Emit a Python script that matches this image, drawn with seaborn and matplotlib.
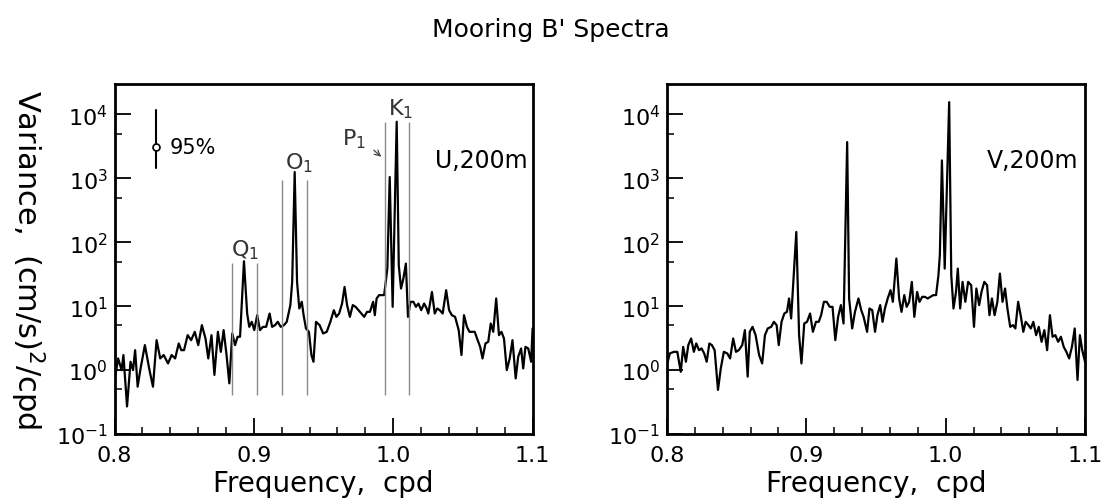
import matplotlib
matplotlib.use("Agg")
import matplotlib.pyplot as plt
import matplotlib.ticker as mticker
import seaborn as sns

# U component, 200 m (frequency in cpd, variance in (cm/s)^2/cpd)
freq_u = [
    0.8000, 0.8026, 0.8051, 0.8064, 0.8090, 0.8115, 0.8133, 0.8148, 0.8166, 0.8187,
    0.8218, 0.8251, 0.8276, 0.8302, 0.8328, 0.8353, 0.8384, 0.8410, 0.8435, 0.8461,
    0.8479, 0.8499, 0.8525, 0.8550, 0.8576, 0.8601, 0.8627, 0.8653, 0.8673, 0.8696,
    0.8717, 0.8742, 0.8763, 0.8783, 0.8804, 0.8824, 0.8845, 0.8865, 0.8883, 0.8901,
    0.8929, 0.8952, 0.8967, 0.8985, 0.9003, 0.9024, 0.9044, 0.9065, 0.9088, 0.9113,
    0.9131, 0.9152, 0.9172, 0.9193, 0.9216, 0.9236, 0.9262, 0.9275, 0.9293, 0.9310,
    0.9326, 0.9344, 0.9357, 0.9374, 0.9395, 0.9413, 0.9428, 0.9446, 0.9472, 0.9497,
    0.9523, 0.9549, 0.9574, 0.9592, 0.9612, 0.9633, 0.9651, 0.9669, 0.9689, 0.9710,
    0.9730, 0.9751, 0.9771, 0.9792, 0.9812, 0.9833, 0.9856, 0.9868, 0.9881, 0.9899,
    0.9920, 0.9935, 0.9958, 0.9975, 0.9996, 1.0025, 1.0040, 1.0056, 1.0073, 1.0091,
    1.0106, 1.0124, 1.0145, 1.0163, 1.0181, 1.0201, 1.0222, 1.0240, 1.0252, 1.0278,
    1.0298, 1.0316, 1.0334, 1.0355, 1.0380, 1.0401, 1.0421, 1.0444, 1.0470, 1.0490,
    1.0508, 1.0529, 1.0547, 1.0565, 1.0585, 1.0606, 1.0624, 1.0641, 1.0662, 1.0682,
    1.0700, 1.0718, 1.0739, 1.0759, 1.0777, 1.0795, 1.0815, 1.0836, 1.0856, 1.0879,
    1.0897, 1.0918, 1.0933, 1.0949, 1.0969, 1.0990, 1.1000,
]
var_u = [
    0.66, 1.52, 1.0, 1.72, 0.27, 1.35, 1.0, 2.05, 0.55, 1.06,
    2.46, 1.0, 0.55, 2.94, 1.52, 1.72, 1.27, 1.72, 1.52, 2.61,
    2.05, 2.05, 3.52, 2.94, 3.97, 2.46, 5.05, 3.12, 1.52, 3.52,
    0.84, 3.97, 1.93, 4.22, 1.72, 0.62, 3.74, 2.46, 3.32, 3.32,
    50.5, 7.68, 4.75, 5.69, 4.22, 7.23, 4.22, 4.75, 4.75, 7.68,
    4.75, 5.05, 5.69, 4.75, 5.05, 5.69, 10.4, 24.0, 1256, 24.0,
    9.2, 11.7, 7.23, 4.48, 3.97, 1.72, 1.35, 5.69, 5.05, 3.74,
    3.97, 5.69, 8.66, 6.81, 7.68, 11.0, 20.0, 10.4, 6.81, 10.4,
    9.77, 8.66, 7.68, 6.81, 8.15, 8.15, 11.7, 7.23, 13.2, 14.9,
    14.9, 14.9, 38.8, 1050, 9.77, 7700, 43.7, 18.9, 27.1, 46.4,
    6.81, 11.7, 11.7, 9.77, 11.0, 8.66, 11.0, 9.2, 7.68, 16.7,
    7.68, 9.2, 8.66, 7.68, 17.8, 8.66, 7.23, 6.81, 4.22, 1.72,
    7.23, 4.75, 3.97, 3.97, 3.97, 2.94, 2.31, 1.52, 2.61, 2.77,
    5.36, 3.97, 13.2, 3.52, 3.97, 3.12, 1.0, 1.52, 2.94, 0.74,
    1.62, 2.18, 1.06, 2.31, 2.18, 1.35, 4.48,
]

# V component, 200 m
freq_v = [
    0.8000, 0.8020, 0.8050, 0.8074, 0.8099, 0.8116, 0.8136, 0.8153, 0.8173, 0.8193,
    0.8210, 0.8230, 0.8248, 0.8267, 0.8285, 0.8304, 0.8322, 0.8342, 0.8366, 0.8386,
    0.8408, 0.8433, 0.8453, 0.8475, 0.8495, 0.8515, 0.8540, 0.8559, 0.8579, 0.8594,
    0.8614, 0.8636, 0.8661, 0.8683, 0.8703, 0.8723, 0.8748, 0.8767, 0.8787, 0.8802,
    0.8822, 0.8842, 0.8861, 0.8876, 0.8891, 0.8928, 0.8948, 0.8965, 0.8985, 0.9005,
    0.9027, 0.9047, 0.9069, 0.9089, 0.9106, 0.9126, 0.9146, 0.9168, 0.9188, 0.9208,
    0.9228, 0.9248, 0.9267, 0.9293, 0.9307, 0.9329, 0.9349, 0.9374, 0.9394, 0.9411,
    0.9436, 0.9453, 0.9473, 0.9493, 0.9510, 0.9530, 0.9547, 0.9564, 0.9584, 0.9604,
    0.9621, 0.9646, 0.9666, 0.9683, 0.9703, 0.9720, 0.9738, 0.9757, 0.9775, 0.9795,
    0.9812, 0.9832, 0.9851, 0.9871, 0.9891, 0.9911, 0.9931, 0.9948, 0.9958, 0.9973,
    0.9993, 1.0025, 1.0040, 1.0056, 1.0074, 1.0087, 1.0104, 1.0121, 1.0141, 1.0161,
    1.0183, 1.0203, 1.0220, 1.0240, 1.0257, 1.0277, 1.0297, 1.0314, 1.0332, 1.0351,
    1.0371, 1.0389, 1.0408, 1.0426, 1.0443, 1.0463, 1.0483, 1.0500, 1.0520, 1.0540,
    1.0557, 1.0574, 1.0594, 1.0611, 1.0629, 1.0649, 1.0668, 1.0688, 1.0708, 1.0728,
    1.0748, 1.0767, 1.0787, 1.0807, 1.0827, 1.0847, 1.0866, 1.0886, 1.0906, 1.0926,
    1.0946, 1.0963, 1.0980, 1.1000,
]
var_v = [
    1.20, 1.82, 1.93, 1.93, 0.94, 2.31, 1.35, 2.46, 3.12, 1.93,
    2.61, 2.05, 2.18, 1.82, 1.35, 2.61, 2.46, 2.05, 0.49, 1.06,
    1.93, 1.82, 1.52, 3.12, 1.93, 2.05, 2.46, 4.22, 0.79, 3.97,
    4.75, 3.52, 1.72, 1.27, 3.52, 4.48, 4.75, 5.69, 5.05, 2.46,
    5.69, 7.68, 8.15, 13.2, 6.42, 145, 3.52, 1.27, 5.36, 5.69,
    7.68, 3.97, 5.69, 5.69, 7.23, 11.7, 11.7, 9.77, 9.77, 2.94,
    6.81, 10.4, 5.36, 3700, 13.2, 4.48, 8.15, 13.2, 8.66, 6.81,
    3.97, 9.2, 8.66, 3.97, 7.23, 10.4, 5.69, 9.2, 13.2, 17.8,
    11.7, 55.6, 13.2, 8.15, 14.9, 9.77, 11.7, 24.0, 6.81, 16.7,
    11.7, 14.0, 14.0, 13.2, 14.0, 14.9, 14.9, 30.5, 62.6, 1910,
    38.8, 15600, 30.5, 9.2, 16.7, 38.8, 9.2, 24.0, 11.7, 24.0,
    21.3, 4.75, 18.9, 10.4, 16.7, 24.0, 21.3, 7.23, 13.2, 7.23,
    11.7, 32.4, 11.7, 18.9, 9.2, 4.75, 5.05, 4.48, 11.7, 6.81,
    3.97, 5.69, 5.05, 4.48, 5.69, 3.52, 4.75, 2.77, 4.22, 2.05,
    7.23, 3.32, 3.52, 2.77, 3.32, 2.31, 1.93, 1.52, 2.31, 4.48,
    0.70, 3.52, 2.05, 1.35,
]

x_ticks = [0.8, 0.9, 1.0, 1.1]
x_tick_labels = ["0.8", "0.9", "1.0", "1.1"]

# tidal band markers on the U panel
band_freqs = [0.8841, 0.9021, 0.9200, 0.9384, 0.9941, 1.0116]
band_low = [0.41, 0.41, 0.41, 0.41, 0.41, 0.41]
band_high = [47, 47, 940, 940, 7700, 7700]
constituents = ["Q$_1$", "O$_1$", "P$_1$", "K$_1$"]
constituent_freqs = [0.8937, 0.9326, 0.9719, 1.0056]
constituent_levels = [78, 1780, 4200, 12400]

# 95% confidence bar
ci_freq = 0.8298
ci_low, ci_mid, ci_high = 1450, 3150, 11700

sns.set_style("ticks")
plt.rcParams["font.family"] = ["DejaVu Sans"]
plt.rcParams["mathtext.fontset"] = "dejavusans"
plt.rcParams["text.color"] = "black"
plt.rcParams["axes.labelcolor"] = "black"

fig = plt.figure(figsize=(11.01, 5.02), dpi=100)
ax_u = fig.add_axes([0.104, 0.1335, 0.3797, 0.6972])
ax_v = fig.add_axes([0.6058, 0.1335, 0.3797, 0.6972])


def style_panel(ax):
    ax.set_yscale("log")
    ax.set_xlim(0.8, 1.1)
    ax.set_ylim(0.1, 3e4)
    ax.xaxis.set_major_locator(mticker.FixedLocator(x_ticks))
    ax.xaxis.set_major_formatter(mticker.FixedFormatter(x_tick_labels))
    ax.xaxis.set_minor_locator(mticker.MultipleLocator(0.02))
    ax.yaxis.set_major_locator(mticker.LogLocator(base=10, numticks=12))
    ax.yaxis.set_minor_locator(mticker.LogLocator(base=10, subs=[5.0], numticks=12))
    ax.yaxis.set_minor_formatter(mticker.NullFormatter())
    ax.tick_params(which="major", direction="in", length=11.5, width=1.3,
                   labelsize=16, colors="black")
    ax.tick_params(axis="x", which="major", pad=8)
    ax.tick_params(axis="y", which="major", pad=5)
    ax.tick_params(which="minor", direction="in", length=5, width=1.3)
    for sp in ax.spines.values():
        sp.set_linewidth(2)
        sp.set_color("black")
        sp.set_visible(True)
    ax.set_xlabel("Frequency,  cpd", fontsize=20, labelpad=3)
    ax.set_ylabel("")


sns.lineplot(x=freq_u, y=var_u, ax=ax_u, color="black", linewidth=1.6,
             estimator=None, sort=False)
sns.lineplot(x=freq_v, y=var_v, ax=ax_v, color="black", linewidth=1.6,
             estimator=None, sort=False)
style_panel(ax_u)
style_panel(ax_v)

# band lines and constituent names
ax_u.vlines(band_freqs, band_low, band_high, colors="#8a8a8a", linewidth=1.0)
for name, f, lev in zip(constituents, constituent_freqs, constituent_levels):
    ax_u.text(f, lev, name, ha="center", va="center", fontsize=16, color="#333333")
ax_u.annotate("", xy=(0.9929, 2040), xytext=(0.9846, 2950),
              arrowprops=dict(arrowstyle="->", color="#444444", lw=0.9))

# confidence interval marker
ax_u.plot([ci_freq, ci_freq], [ci_low, ci_high], color="black", linewidth=1.5)
ax_u.plot([ci_freq], [ci_mid], marker="o", markersize=5, markerfacecolor="white",
          markeredgecolor="black", markeredgewidth=1.2)
ax_u.text(0.8398, ci_mid, "95%", ha="left", va="center", fontsize=15)

ax_u.text(1.0968, 1950, "U,200m", ha="right", va="center", fontsize=17)
ax_v.text(1.0950, 1950, "V,200m", ha="right", va="center", fontsize=17)

fig.text(0.025, 0.482, "Variance,  (cm/s)$^2$/cpd", rotation=270,
         ha="center", va="center", fontsize=22)
fig.text(0.5, 0.94, "Mooring B' Spectra", ha="center", va="center", fontsize=18)

fig.savefig("out.png", dpi=100)
